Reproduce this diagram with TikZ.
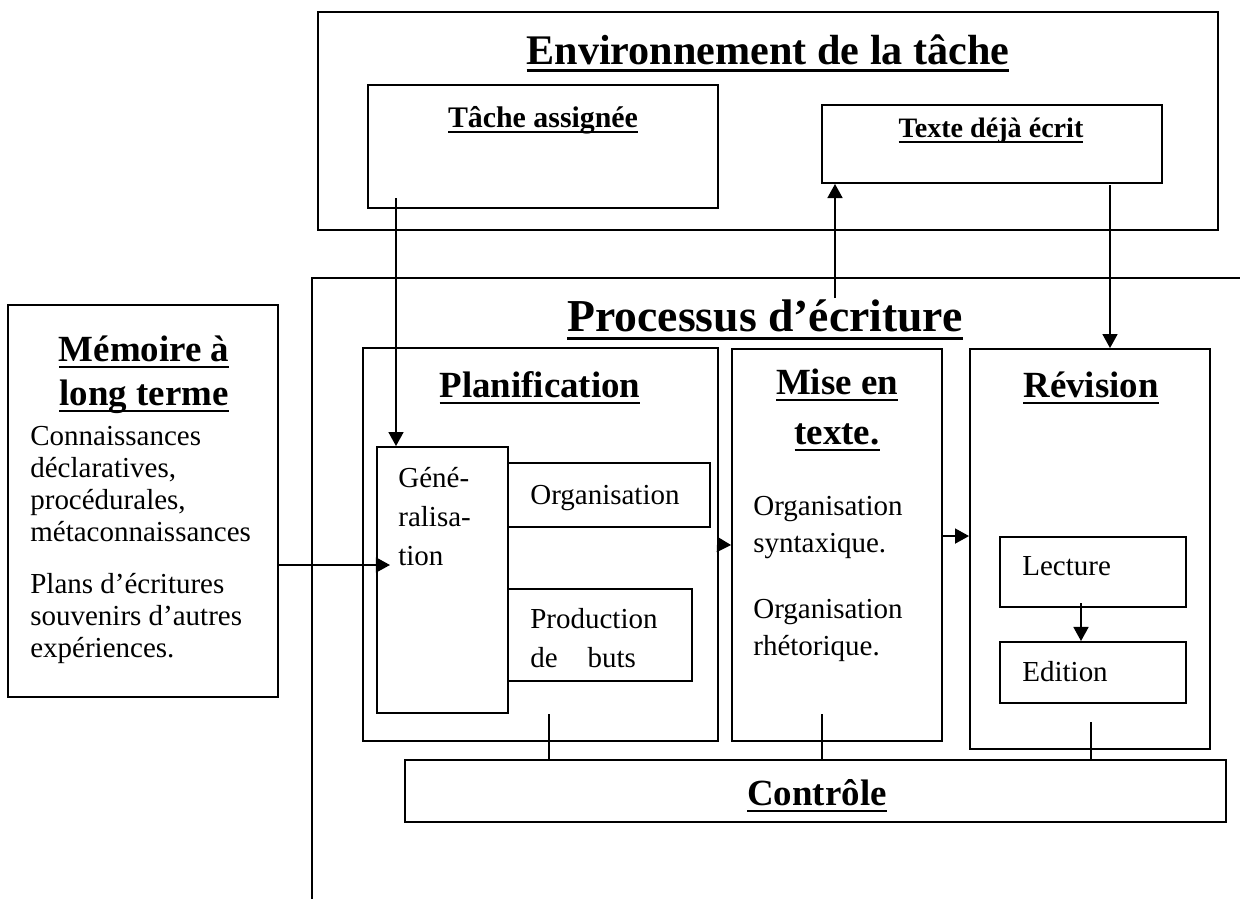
\documentclass[tikz,border=0pt]{standalone}
\usepackage{fontspec}
\setmainfont{Liberation Serif}
\usetikzlibrary{arrows.meta}
\newcommand\hdline[1]{\setbox0\hbox{#1}\leavevmode\rlap{\rule[-0.2em]{\wd0}{0.075em}}\box0}
\tikzset{
  box/.style={draw, line width=1.1pt, inner sep=0pt},
  head/.style={font=\fontsize{21}{25}\selectfont\bfseries, anchor=base, inner sep=0pt, align=center},
  body/.style={font=\fontsize{16.5}{18.2}\selectfont, anchor=base west, inner sep=0pt, align=left},
  arr/.style={line width=1.1pt, -{Triangle[length=8pt,width=8.5pt]}},
  link/.style={line width=1.1pt},
}
\begin{document}
\begin{tikzpicture}[x=0.02cm, y=-0.02cm]
  \useasboundingbox (0,0) rectangle (1240,899);
  % task environment
  \node[box, minimum width=18cm, minimum height=4.36cm] (env) at (768,121) {};
  \node[head, font=\fontsize{24}{28}\selectfont\bfseries] (envt) at (768,64) {\hdline{Environnement de la tâche}};
  \node[box, minimum width=7cm, minimum height=2.46cm] (task) at (543,146.5) {};
  \node[head, font=\fontsize{17}{20}\selectfont\bfseries] (taskt) at (543,127) {\hdline{Tâche assignée}};
  \node[box, minimum width=6.8cm, minimum height=1.56cm] (written) at (992,144) {};
  \node[head, font=\fontsize{16}{19}\selectfont\bfseries] (writtent) at (991,137) {\hdline{Texte déjà écrit}};
  % writing process frame, cut by the page
  \draw[link] (1240,278) -| (312,899);
  \node[head, font=\fontsize{26}{30}\selectfont\bfseries] (proct) at (765,331) {\hdline{Processus d’écriture}};
  % long-term memory (base = last line)
  \node[box, minimum width=5.4cm, minimum height=7.84cm] (mem) at (143,501) {};
  \node[head, font=\fontsize{21}{25}\selectfont\bfseries] (memt) at (144,405) {\hdline{Mémoire à}\\\hdline{long terme}};
  \node[body] (memk) at (30,541) {Connaissances\\déclaratives,\\procédurales,\\métaconnaissances};
  \node[body] (memp) at (30,657) {Plans d’écritures\\souvenirs d’autres\\expériences.};
  % planning
  \node[box, minimum width=7.1cm, minimum height=7.86cm] (plan) at (540.5,544.5) {};
  \node[head] (plant) at (540,397) {\hdline{Planification}};
  \node[box, minimum width=2.62cm, minimum height=5.32cm] (gen) at (442.5,580) {};
  \node[body, font=\fontsize{16.5}{22}\selectfont] (gent) at (398,565) {Géné-\\ralisa-\\tion};
  \node[box, minimum width=4.04cm, minimum height=1.28cm] (orga) at (609,495) {};
  \node[body] (orgat) at (530,504) {Organisation};
  \node[box, minimum width=3.68cm, minimum height=1.84cm] (prod) at (600,635) {};
  \node[body, font=\fontsize{16.5}{22}\selectfont] (prodt) at (530,667) {Production\\de\hspace{17pt}buts};
  % translating
  \node[box, minimum width=4.2cm, minimum height=7.84cm] (mise) at (837,545) {};
  \node[head, font=\fontsize{21}{28.4}\selectfont\bfseries] (miset) at (837,444) {\hdline{Mise en}\\\hdline{texte.}};
  \node[body, font=\fontsize{16.5}{21}\selectfont] (miseo) at (753,552) {Organisation\\syntaxique.};
  \node[body, font=\fontsize{16.5}{21}\selectfont] (miser) at (753,655) {Organisation\\rhétorique.};
  % reviewing
  \node[box, minimum width=4.8cm, minimum height=8cm] (revi) at (1090,549) {};
  \node[head] (revit) at (1091,397) {\hdline{Révision}};
  \node[box, minimum width=3.72cm, minimum height=1.4cm] (lect) at (1093,572) {};
  \node[body] (lectt) at (1022,575) {Lecture};
  \node[box, minimum width=3.72cm, minimum height=1.22cm] (edit) at (1093,672.5) {};
  \node[body] (editt) at (1022,681) {Edition};
  % monitor
  \node[box, minimum width=16.42cm, minimum height=1.24cm] (ctrl) at (815.5,791) {};
  \node[head] (ctrlt) at (817,805) {\hdline{Contrôle}};
  % connectors
  \coordinate (a1) at (396,198);
  \draw[arr] (a1) -- (a1 |- gen.north);
  \coordinate (a2) at (835,298);
  \draw[arr] (a2) -- (a2 |- written.south);
  \coordinate (a3) at (1110,185);
  \draw[arr] (a3) -- (a3 |- revi.north);
  \coordinate (a4) at (390,565);
  \draw[arr] (a4 -| mem.east) -- (a4);
  \draw[arr] (plan.east) -- (mise.west);
  \draw[arr] (mise.east |- lect.north) -- (revi.west |- lect.north);
  \coordinate (a5) at (1081,603);
  \draw[arr] (a5) -- (a5 |- edit.north);
  \foreach \x/\y in {549/714, 822/714, 1091/722}
    \draw[link] (\x,\y) -- (\x,\y |- ctrl.north);
\end{tikzpicture}
\end{document}
